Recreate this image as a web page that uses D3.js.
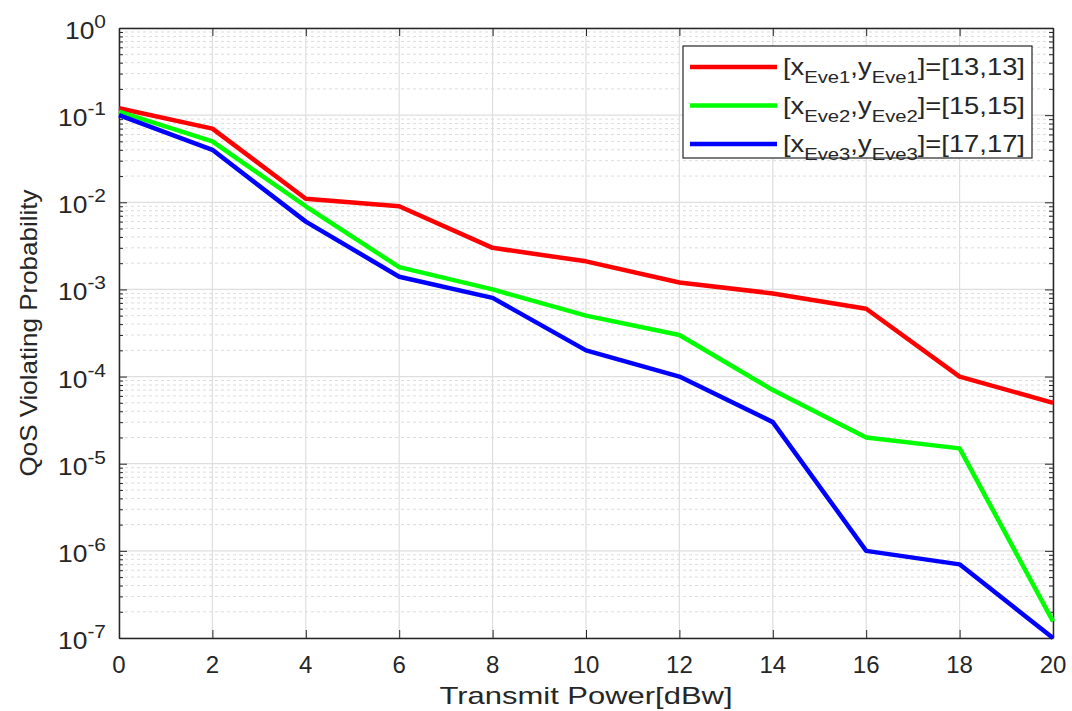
<!DOCTYPE html>
<html>
<head>
<meta charset="utf-8">
<script src="https://cdn.jsdelivr.net/npm/d3@7"></script>
<style>
  body{margin:0;background:#fff;}
  svg text{font-family:"Liberation Sans",Arial,sans-serif;fill:#262626;}
</style>
</head>
<body>
<div class="chart"></div>
<script>
let power=[0,2,4,6,8,10,12,14,16,18,20]
let eve1=[0.12,0.07,0.011,0.009,0.003,0.0021,0.0012,0.0009,0.0006,1e-4,5e-5]
let eve2=[0.11,0.05,0.009,0.0018,0.001,0.0005,0.0003,7e-5,2e-5,1.5e-5,1.55e-7]
let eve3=[0.1,0.04,0.006,0.0014,0.0008,0.0002,1e-4,3e-5,1e-6,7e-7,1e-7]
let names=['1','2','3']
let coords=['[13,13]','[15,15]','[17,17]']
let colors=['#ff0000','#00ff00','#0000ff']
let xTicks=[0,2,4,6,8,10,12,14,16,18,20]
let decades=[0,-1,-2,-3,-4,-5,-6,-7]

let w=1072, h=711
let pLeft=119, pRight=1053, pTop=28, pBottom=638

let svg=d3.select('.chart').append('svg').attr('width',w).attr('height',h)
let xScale=d3.scaleLinear().domain([0,20]).range([pLeft,pRight])
let yScale=d3.scaleLog().domain([1e-7,1]).range([pBottom,pTop])

// minor values 2..9 per decade
let minor=[]
decades.slice(1).forEach(k=>{
  for(let m=2;m<=9;m++) minor.push(m*Math.pow(10,k))
})

let grid=svg.append('g')
grid.selectAll('.minor').data(minor).enter().append('line')
  .attr('x1',pLeft).attr('x2',pRight)
  .attr('y1',d=>yScale(d)).attr('y2',d=>yScale(d))
  .attr('stroke','#dcdcdc').attr('stroke-width',1).attr('stroke-dasharray','3,3')
grid.selectAll('.major').data(decades).enter().append('line')
  .attr('x1',pLeft).attr('x2',pRight)
  .attr('y1',d=>yScale(Math.pow(10,d))).attr('y2',d=>yScale(Math.pow(10,d)))
  .attr('stroke','#dedede').attr('stroke-width',1.2)
grid.selectAll('.vx').data(xTicks).enter().append('line')
  .attr('y1',pTop).attr('y2',pBottom)
  .attr('x1',d=>xScale(d)).attr('x2',d=>xScale(d))
  .attr('stroke','#dedede').attr('stroke-width',1.2)

// axes, ticks inward
let yVals=decades.map(d=>Math.pow(10,d))
let axisStyle=g=>{
  g.select('.domain').attr('stroke','#262626').attr('stroke-width',1.5)
  g.selectAll('.tick line').attr('stroke','#262626')
}
svg.append('g').attr('transform','translate(0,'+pBottom+')')
  .call(d3.axisBottom(xScale).tickValues(xTicks).tickSizeInner(-8).tickSizeOuter(0).tickFormat(''))
  .call(axisStyle)
svg.append('g').attr('transform','translate(0,'+pTop+')')
  .call(d3.axisTop(xScale).tickValues(xTicks).tickSizeInner(-8).tickSizeOuter(0).tickFormat(''))
  .call(axisStyle)
svg.append('g').attr('transform','translate('+pLeft+',0)')
  .call(d3.axisLeft(yScale).tickValues(yVals).tickSizeInner(-8).tickSizeOuter(0).tickFormat(''))
  .call(axisStyle)
svg.append('g').attr('transform','translate('+pLeft+',0)')
  .call(d3.axisLeft(yScale).tickValues(minor).tickSizeInner(-4).tickSizeOuter(0).tickFormat(''))
  .call(g=>{g.select('.domain').remove();g.selectAll('.tick line').attr('stroke','#262626')})
svg.append('g').attr('transform','translate('+pRight+',0)')
  .call(d3.axisRight(yScale).tickValues(yVals).tickSizeInner(-8).tickSizeOuter(0).tickFormat(''))
  .call(axisStyle)
svg.append('g').attr('transform','translate('+pRight+',0)')
  .call(d3.axisRight(yScale).tickValues(minor).tickSizeInner(-4).tickSizeOuter(0).tickFormat(''))
  .call(g=>{g.select('.domain').remove();g.selectAll('.tick line').attr('stroke','#262626')})

// tick labels
svg.selectAll('.xl').data(xTicks).enter().append('text')
  .attr('x',d=>xScale(d)).attr('y',673).attr('text-anchor','middle')
  .attr('font-size',24).text(d=>d)
let yl=svg.selectAll('.yl').data(decades).enter().append('text')
  .attr('transform',d=>'translate(106,'+(yScale(Math.pow(10,d))+11)+') scale(1.1,1)')
  .attr('text-anchor','end').attr('font-size',24)
yl.append('tspan').text('10')
yl.append('tspan').attr('dy',-11).attr('font-size',19).text(d=>d)

// axis titles
svg.append('text').attr('x',(pLeft+pRight)/2).attr('y',704).attr('text-anchor','middle')
  .attr('font-size',24).attr('textLength',293).attr('lengthAdjust','spacingAndGlyphs')
  .text('Transmit Power[dBw]')
svg.append('text').attr('transform','translate(37,'+((pTop+pBottom)/2)+') rotate(-90)')
  .attr('text-anchor','middle').attr('font-size',24)
  .attr('textLength',287).attr('lengthAdjust','spacingAndGlyphs')
  .text('QoS Violating Probability')

// lines
let series=[eve1,eve2,eve3]
let line=d3.line().x((d,i)=>xScale(power[i])).y(d=>yScale(d))
svg.selectAll('.ser').data(series).enter().append('path')
  .attr('d',d=>line(d)).attr('fill','none')
  .attr('stroke',(d,i)=>colors[i]).attr('stroke-width',4.5).attr('stroke-linejoin','round')

// legend
let lg=svg.append('g')
lg.append('rect').attr('x',683).attr('y',46).attr('width',349).attr('height',112)
  .attr('fill','#fff').attr('stroke','#262626').attr('stroke-width',1.2)
let rows=lg.selectAll('.row').data(names).enter().append('g')
  .attr('transform',(d,i)=>'translate(0,'+(67+i*38.5)+')')
rows.append('line').attr('x1',690).attr('x2',777).attr('y1',0).attr('y2',0)
  .attr('stroke',(d,i)=>colors[i]).attr('stroke-width',4.5)
let lt=rows.append('text').attr('transform','translate(783,8) scale(1.19,1)').attr('font-size',23)
lt.append('tspan').text('[x')
lt.append('tspan').attr('dy',8).attr('font-size',17).text(d=>'Eve'+d)
lt.append('tspan').attr('dy',-8).text(',y')
lt.append('tspan').attr('dy',8).attr('font-size',17).text(d=>'Eve'+d)
lt.append('tspan').attr('dy',-8).text((d,i)=>']='+coords[i])
</script>
</body>
</html>
